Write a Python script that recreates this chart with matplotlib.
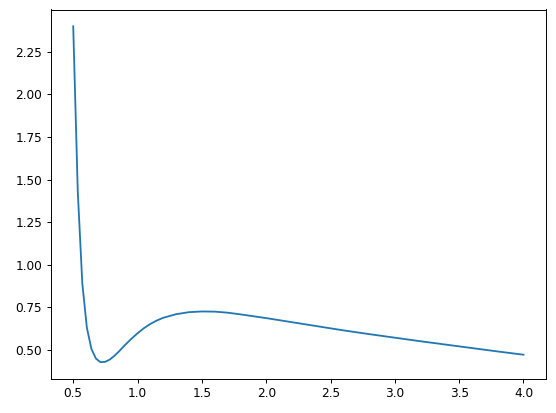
import matplotlib
matplotlib.use("Agg")
import matplotlib.pyplot as plt

x_values = [0.5, 0.5354, 0.5707, 0.6061, 0.6414, 0.6768, 0.7121, 0.7475, 0.7828,
            0.8182, 0.85, 0.9, 0.95, 1.0, 1.05, 1.1, 1.15, 1.2, 1.3, 1.4, 1.5,
            1.6, 1.7, 1.8, 1.9, 2.0, 2.2, 2.4, 2.6, 2.8, 3.0, 3.2, 3.4, 3.6,
            3.8, 4.0]
y_values = [2.40, 1.43, 0.89, 0.63, 0.505, 0.448, 0.427, 0.429, 0.442,
            0.463, 0.486, 0.526, 0.563, 0.597, 0.627, 0.652, 0.672, 0.688, 0.709, 0.721, 0.725,
            0.724, 0.718, 0.708, 0.697, 0.686, 0.662, 0.638, 0.614, 0.592, 0.571, 0.55, 0.53, 0.51,
            0.49, 0.471]

DPI = 86.875
fig = plt.figure(figsize=(556 / DPI, 413 / DPI), dpi=DPI)
ax = fig.add_axes([50.7 / 556, 34 / 413, (546 - 50.7) / 556, (403.5 - 34) / 413])
ax.plot(x_values, y_values, color="#1f77b4", linewidth=1.5)
fig.savefig("out.png", dpi=DPI)
